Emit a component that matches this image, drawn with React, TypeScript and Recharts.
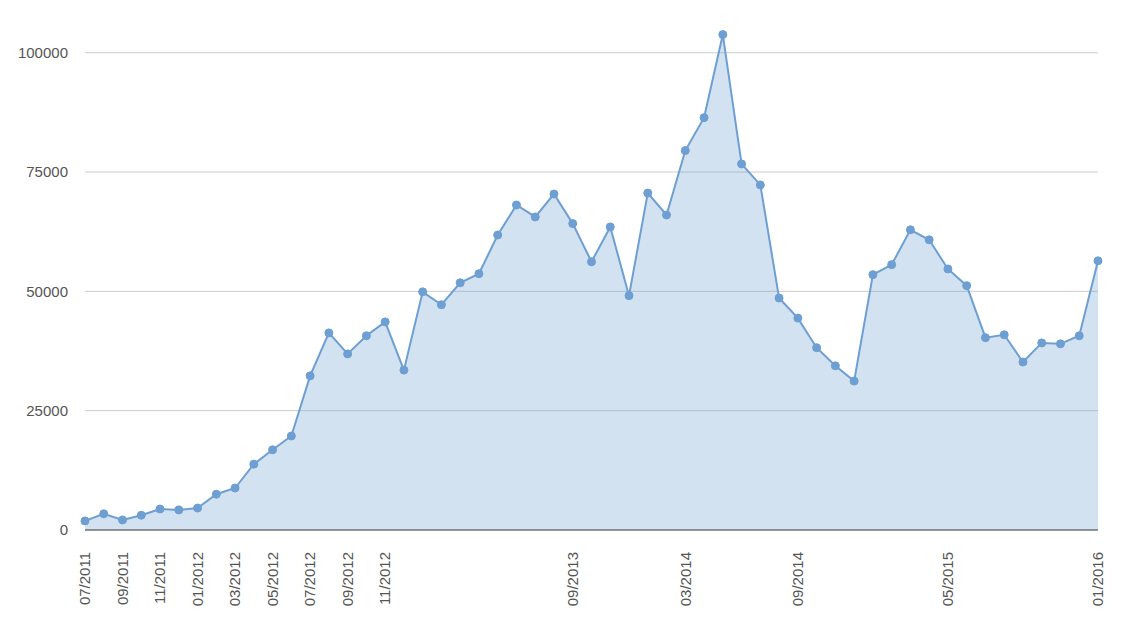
import React from 'react'
import {
  AreaChart,
  Area,
  XAxis,
  YAxis,
  CartesianGrid,
} from 'recharts'

// monthly values, 07/2011 .. 01/2016
const months = [
  '07/2011', '08/2011', '09/2011', '10/2011', '11/2011', '12/2011',
  '01/2012', '02/2012', '03/2012', '04/2012', '05/2012', '06/2012',
  '07/2012', '08/2012', '09/2012', '10/2012', '11/2012', '12/2012',
  '01/2013', '02/2013', '03/2013', '04/2013', '05/2013', '06/2013',
  '07/2013', '08/2013', '09/2013', '10/2013', '11/2013', '12/2013',
  '01/2014', '02/2014', '03/2014', '04/2014', '05/2014', '06/2014',
  '07/2014', '08/2014', '09/2014', '10/2014', '11/2014', '12/2014',
  '01/2015', '02/2015', '03/2015', '04/2015', '05/2015', '06/2015',
  '07/2015', '08/2015', '09/2015', '10/2015', '11/2015', '12/2015',
  '01/2016',
]

const values = [
  1900, 3400, 2100, 3100, 4400, 4200,
  4600, 7500, 8800, 13800, 16800, 19700,
  32300, 41300, 36900, 40700, 43600, 33500,
  49900, 47200, 51800, 53700, 61800, 68100,
  65600, 70400, 64200, 56200, 63500, 49100,
  70600, 66000, 79500, 86400, 103800, 76700,
  72300, 48600, 44400, 38200, 34400, 31200,
  53500, 55600, 62900, 60800, 54700, 51200,
  40300, 40900, 35200, 39200, 39000, 40700,
  56400,
]

// only these month labels are printed under the axis
const shownLabels = [
  '07/2011', '09/2011', '11/2011', '01/2012', '03/2012', '05/2012',
  '07/2012', '09/2012', '11/2012', '09/2013', '03/2014', '09/2014',
  '05/2015', '01/2016',
]

const yTicks = [0, 25000, 50000, 75000, 100000]
const gridValues = [25000, 50000, 75000, 100000]

const data = months.map((m, i) => ({ month: m, value: values[i] }))

const font = '"Liberation Sans", Arial, sans-serif'
const blue = '#6d9fd2'

function MonthTick(props: any) {
  const { x, y, payload } = props
  if (!shownLabels.includes(payload.value)) return null
  const top = y + 14
  return (
    <g transform={`translate(${x}, ${top}) rotate(-90)`}>
      <text
        x={0}
        y={0}
        dy="0.35em"
        textAnchor="end"
        fontSize={15}
        fontFamily={font}
        fill="#555"
      >
        {payload.value}
      </text>
    </g>
  )
}

export default function App() {
  return (
    <div style={{ width: 1138, height: 632, background: '#fff' }}>
      <style>{'body{margin:0}'}</style>
      <AreaChart
        width={1138}
        height={632}
        data={data}
        margin={{ top: 5, right: 40, bottom: 0, left: 0 }}
      >
        <CartesianGrid
          vertical={false}
          stroke="#cccccc"
          horizontalValues={gridValues}
        />
        <XAxis
          dataKey="month"
          interval={0}
          height={102}
          tickLine={false}
          axisLine={{ stroke: '#333', strokeWidth: 1 }}
          tick={<MonthTick />}
        />
        <YAxis
          width={85}
          domain={[0, 110000]}
          ticks={yTicks}
          axisLine={false}
          tickLine={false}
          tickMargin={11}
          tick={{ fontSize: 15, fontFamily: font, fill: '#555' }}
        />
        <Area
          type="linear"
          dataKey="value"
          stroke={blue}
          strokeWidth={2}
          fill={blue}
          fillOpacity={0.3}
          dot={{ r: 4, fill: blue, fillOpacity: 1, stroke: blue, strokeWidth: 1 }}
          activeDot={false}
          isAnimationActive={false}
        />
      </AreaChart>
    </div>
  )
}
